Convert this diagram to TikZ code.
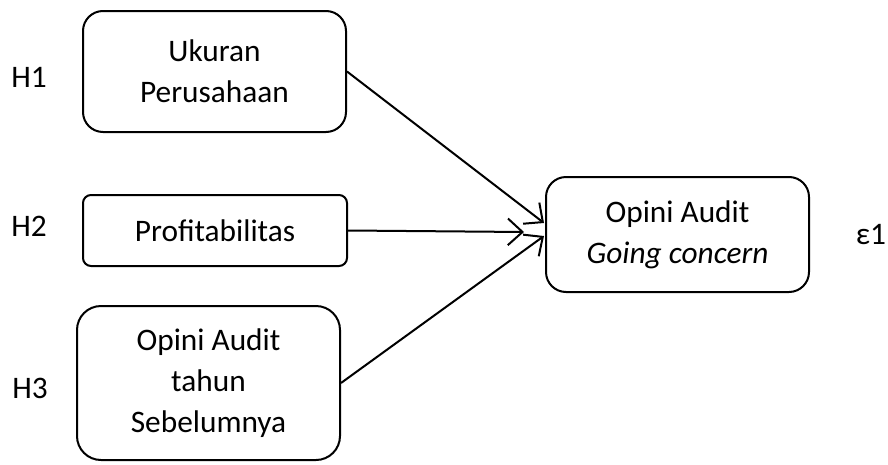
\documentclass[tikz,border=0pt]{standalone}
\usepackage{fontspec}
\setmainfont{Carlito}
\usetikzlibrary{arrows.meta}
\tikzset{
  box/.style={draw, line width=1.5pt, align=center, inner sep=0pt,
    font=\fontsize{23.5pt}{30.5pt}\selectfont},
  lbl/.style={font=\fontsize{23.5pt}{30pt}\selectfont, inner sep=0pt},
  arr/.style={line width=1.5pt, -{Straight Barb[length=11pt,width=20pt,line width=1.5pt]}}
}
\begin{document}
\begin{tikzpicture}[x=0.75pt,y=-0.75pt]
\useasboundingbox (0,0) rectangle (888,464);
\node[box, minimum width=197.25pt, minimum height=90.75pt, rounded corners=15pt] (b1) at (214.5,71.5) {Ukuran\\Perusahaan};
\node[box, minimum width=198pt, minimum height=53.25pt, rounded corners=6pt] (b2) at (215,230.5) {Profitabilitas};
\node[box, minimum width=197.25pt, minimum height=115.5pt, rounded corners=18pt] (b3) at (208.5,383) {Opini Audit\\tahun\\Sebelumnya};
\node[box, minimum width=197.25pt, minimum height=86.25pt, rounded corners=15pt] (b4) at (677.5,234.5) {Opini Audit\\\textit{Going concern}};
\node[lbl] (h1) at (29,77) {H1};
\node[lbl] (h2) at (29,226) {H2};
\node[lbl] (h3) at (30,388) {H3};
\node[lbl] (e1) at (871,235) {ε1};
\coordinate (t1) at (544,223);
\coordinate (t2) at (524,232);
\coordinate (t3) at (544,236);
\draw[arr] (b1.east) -- (t1);
\draw[arr] (b2.east) -- (t2);
\draw[arr] (b3.east) -- (t3);
\end{tikzpicture}
\end{document}
